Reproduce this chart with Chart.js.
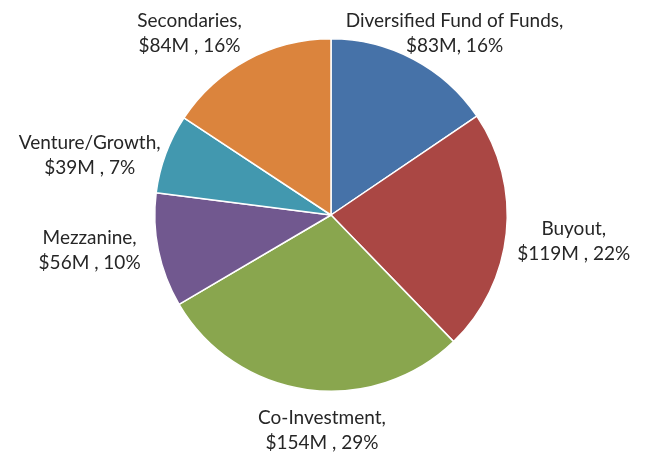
<!DOCTYPE html>
<html>
<head>
<meta charset="utf-8">
<script src="https://cdn.jsdelivr.net/npm/chart.js@4.4.0/dist/chart.umd.min.js"></script>
<style>
  html, body { margin: 0; padding: 0; background: #ffffff; }
  #wrap { width: 647px; height: 452px; }
</style>
</head>
<body>
<div id="wrap"><canvas id="graf_pizza" width="647" height="452"></canvas></div>
<script>
// dados do gráfico (sentido horário a partir do topo)
const categorias = ["Diversified Fund of Funds", "Buyout", "Co-Investment", "Mezzanine", "Venture/Growth", "Secondaries"];
const valores = [83, 119, 154, 56, 39, 84];
const rotulosValor = ["$83M, 16%", "$119M , 22%", "$154M , 29%", "$56M , 10%", "$39M , 7%", "$84M , 16%"];
const cores = ["#4672a8", "#aa4744", "#89a64e", "#71588f", "#4298af", "#db843d"];

// ajuste fino da posição dos rótulos (px)
const ajusteRotulo = [[4, 1], [3, 2], [20, 3], [-9, -12], [0, 30], [-33, 1]];

const fonteRotulo = "19px Lato, 'Open Sans', sans-serif";
const alturaLinha = 25;

// plugin que escreve os rótulos fora das fatias
const rotulosFora = {
  id: "rotulosFora",
  afterDatasetsDraw(chart) {
    const ctx = chart.ctx;
    const meta = chart.getDatasetMeta(0);
    ctx.save();
    ctx.font = fonteRotulo;
    ctx.fillStyle = "#262626";
    ctx.textAlign = "center";
    ctx.textBaseline = "middle";
    meta.data.forEach((arc, i) => {
      const p = arc.getProps(["x", "y", "startAngle", "endAngle", "outerRadius"], true);
      const meio = (p.startAngle + p.endAngle) / 2;
      const linhas = [categorias[i] + ",", rotulosValor[i]];
      const w = Math.max(...linhas.map((l) => ctx.measureText(l).width));
      const h = linhas.length * alturaLinha;
      const cosA = Math.cos(meio);
      const sinA = Math.sin(meio);
      const d = p.outerRadius + 6 + Math.abs(cosA) * w / 2 + Math.abs(sinA) * h / 2;
      let cx = p.x + d * cosA;
      let cy = p.y + d * sinA;
      cy = Math.max(7 + h / 2, Math.min(chart.height - h / 2, cy));
      cx += ajusteRotulo[i][0];
      cy += ajusteRotulo[i][1];
      linhas.forEach((l, k) => {
        ctx.fillText(l, cx, cy - h / 2 + alturaLinha / 2 + k * alturaLinha);
      });
    });
    ctx.restore();
  },
};

const dados = {
  labels: categorias,
  datasets: [
    {
      data: valores,
      backgroundColor: cores,
      borderColor: "#ffffff",
      borderWidth: 1.5,
    },
  ],
};

const config = {
  type: "pie",
  data: dados,
  options: {
    responsive: false,
    animation: false,
    layout: {
      padding: { top: 38, bottom: 60, left: 154, right: 139 },
    },
    plugins: {
      legend: { display: false },
      tooltip: { enabled: false },
    },
  },
  plugins: [rotulosFora],
};

const grafico = new Chart(document.getElementById("graf_pizza"), config);
</script>
</body>
</html>
